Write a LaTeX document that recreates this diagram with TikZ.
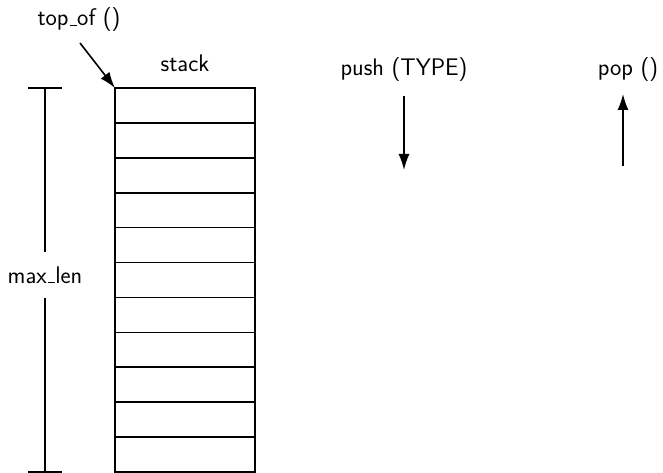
\documentclass[tikz,border=0pt]{standalone}
\usetikzlibrary{arrows.meta}
% short, low underscore as in the classic sans text font
\newcommand\lowbar{\leavevmode\kern.06em\vbox{\hrule width .3em height 1.2pt}}
\begin{document}
\begin{tikzpicture}[x=1pt,y=-1pt,line width=1.6pt,
  lbl/.style={font=\sffamily\fontsize{24}{28}\selectfont,inner sep=0pt},
  cell/.style={draw,minimum width=140pt,minimum height=34.9pt,inner sep=0pt,outer sep=0pt},
  arr/.style={-{Latex[length=16pt,width=11pt]}}]
\useasboundingbox (0,0) rectangle (663,473);
% the stack: eleven equal cells
\foreach \i in {0,...,10}{
  \node[cell] (c\i) at (185,{88+34.9*(\i+0.5)}) {};
}
\node[lbl] (stack) at (185,63) {stack};
% top_of () pointer
\node[lbl] (topof) at (79,20) {top\lowbar of ()};
\coordinate (tstart) at (80,43);
\draw[arr] (tstart) -- (c0.north west);
% max_len dimension
\coordinate (dt1) at (28,88);
\coordinate (dt2) at (62,88);
\coordinate (db1) at (28,472);
\coordinate (db2) at (62,472);
\coordinate (dtm) at (45,88);
\coordinate (dbm) at (45,472);
\draw (dt1) -- (dt2);
\draw (db1) -- (db2);
\node[lbl,minimum height=44pt] (maxlen) at (45,275) {max\lowbar len};
\draw (dtm) -- (maxlen.north);
\draw (maxlen.south) -- (dbm);
% push and pop
\node[lbl] (push) at (404,70) {push (TYPE)};
\coordinate (ps) at (404,96);
\coordinate (pe) at (404,170);
\draw[arr] (ps) -- (pe);
\node[lbl] (pop) at (628,70) {pop ()};
\coordinate (qs) at (623,166);
\coordinate (qe) at (623,94);
\draw[arr] (qs) -- (qe);
\end{tikzpicture}
\end{document}
